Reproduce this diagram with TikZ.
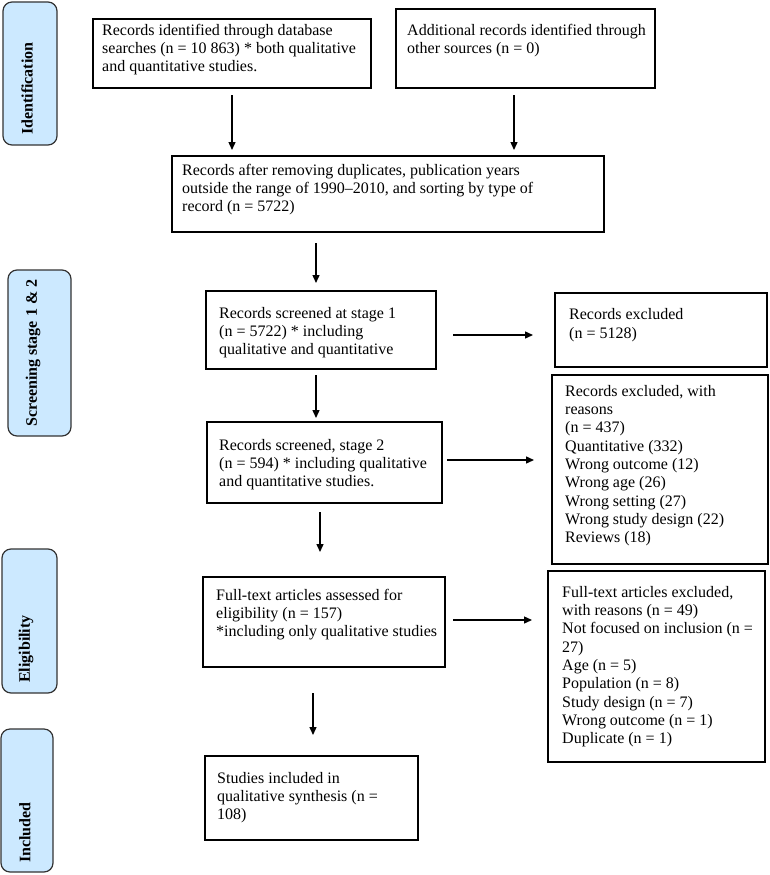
\documentclass[tikz,border=0pt]{standalone}
\usepackage{fontspec}
\setmainfont{Liberation Serif}
\usetikzlibrary{arrows.meta,calc}
\definecolor{lblue}{RGB}{204,233,255}
\begin{document}
\begin{tikzpicture}[x=1pt,y=-1pt,
  box/.style={draw=black, line width=1.1pt, anchor=north west, inner sep=0pt, outer sep=0pt},
  txt/.style={anchor=north west, inner sep=0pt, align=left, font=\fontsize{16}{18.3}\selectfont},
  side/.style={draw=black!80, fill=lblue, rounded corners=9pt, line width=1.2pt, anchor=north west, inner sep=0pt, outer sep=0pt},
  sidetxt/.style={rotate=90, anchor=west, inner sep=0pt, font=\fontsize{16}{18}\selectfont\bfseries},
  arr/.style={line width=1.4pt, -{Triangle[length=8pt,width=7pt]}}]
\useasboundingbox (0,0) rectangle (770,875);

% side labels
\node[side, minimum width=54pt, minimum height=143pt] (sid) at (3,2) {};
\node[sidetxt] (sidt) at (27,135) {Identification};
\node[side, minimum width=63pt, minimum height=166pt] (sscr) at (8,270) {};
\node[sidetxt] (sscrt) at (33,427) {Screening stage 1 \& 2};
\node[side, minimum width=55pt, minimum height=144pt] (sel) at (2,549) {};
\node[sidetxt] (selt) at (26,683) {Eligibility};
\node[side, minimum width=52pt, minimum height=143pt] (sin) at (1,729) {};
\node[sidetxt] (sint) at (25,863) {Included};

% boxes
\node[box, minimum width=278pt, minimum height=69pt] (A) at (93,19) {};
\node[txt] (At) at (102,22.2) {\strut Records identified through database\\searches (n = 10 863) * both qualitative\\and quantitative studies.};
\node[box, minimum width=259pt, minimum height=79pt] (B) at (396,9) {};
\node[txt] (Bt) at (407,22.2) {\strut Additional records identified through\\other sources (n = 0)};
\node[box, minimum width=432pt, minimum height=76pt] (C) at (172,156) {};
\node[txt] (Ct) at (182,162.2) {\strut Records after removing duplicates, publication years\\outside the range of 1990--2010, and sorting by type of\\record (n = 5722)};
\node[box, minimum width=230pt, minimum height=78pt] (D) at (206,291) {};
\node[txt] (Dt) at (219,305.2) {\strut Records screened at stage 1\\(n = 5722) * including\\qualitative and quantitative};
\node[box, minimum width=212pt, minimum height=74pt] (E) at (555,293) {};
\node[txt] (Et) at (569,306.7) {\strut Records excluded\\(n = 5128)};
\node[box, minimum width=235pt, minimum height=81pt] (D2) at (207,422) {};
\node[txt] (D2t) at (219,437.2) {\strut Records screened, stage 2\\(n = 594) * including qualitative\\and quantitative studies.};
\node[box, minimum width=216pt, minimum height=189pt] (F) at (552,375) {};
\node[txt] (Ft) at (565,383.2) {\strut Records excluded, with\\reasons\\(n = 437)\\Quantitative (332)\\Wrong outcome (12)\\Wrong age (26)\\Wrong setting (27)\\Wrong study design (22)\\Reviews (18)};
\node[box, minimum width=242pt, minimum height=90pt] (H) at (203,577) {};
\node[txt] (Ht) at (216,587.2) {\strut Full-text articles assessed for\\eligibility (n = 157)\\*including only qualitative studies};
\node[box, minimum width=217pt, minimum height=191pt] (G) at (548,571) {};
\node[txt] (Gt) at (562,584.2) {\strut Full-text articles excluded,\\with reasons (n = 49)\\Not focused on inclusion (n =\\27)\\Age (n = 5)\\Population (n = 8)\\Study design (n = 7)\\Wrong outcome (n = 1)\\Duplicate (n = 1)};
\node[box, minimum width=213pt, minimum height=84pt] (I) at (205,756) {};
\node[txt] (It) at (217,770.2) {\strut Studies included in\\qualitative synthesis (n =\\108)};

% connector anchor coordinates
\coordinate (bx) at ($(B.south)+(-11.5,0)$);
\coordinate (cd) at ($(D.north)+(-5,0)$);
\coordinate (dd) at ($(D2.north)+(-8.5,0)$);
\coordinate (dh) at ($(H.north)+(-4,0)$);
\coordinate (hi) at ($(I.north)+(1.5,0)$);
\coordinate (de) at ($(E.west)+(0,5)$);
\coordinate (df) at ($(F.west)+(0,-9.5)$);
\coordinate (hg) at ($(G.west)+(0,-46.5)$);

% arrows
\draw[arr, shorten <=7pt, shorten >=6pt] (A.south) -- (C.north -| A.south);
\draw[arr, shorten <=7pt, shorten >=6pt] (bx) -- (C.north -| bx);
\draw[arr, shorten <=11pt, shorten >=8pt] (C.south -| cd) -- (cd);
\draw[arr, shorten <=6pt, shorten >=4pt] (D.south -| dd) -- (dd);
\draw[arr, shorten <=9pt, shorten >=25pt] (D2.south -| dh) -- (dh);
\draw[arr, shorten <=26pt, shorten >=21pt] (H.south -| hi) -- (hi);
\draw[arr, shorten <=17pt, shorten >=22pt] (de -| D.east) -- (de);
\draw[arr, shorten <=5pt, shorten >=18pt] (df -| D2.east) -- (df);
\draw[arr, shorten <=8pt, shorten >=16pt] (hg -| H.east) -- (hg);
\end{tikzpicture}
\end{document}
